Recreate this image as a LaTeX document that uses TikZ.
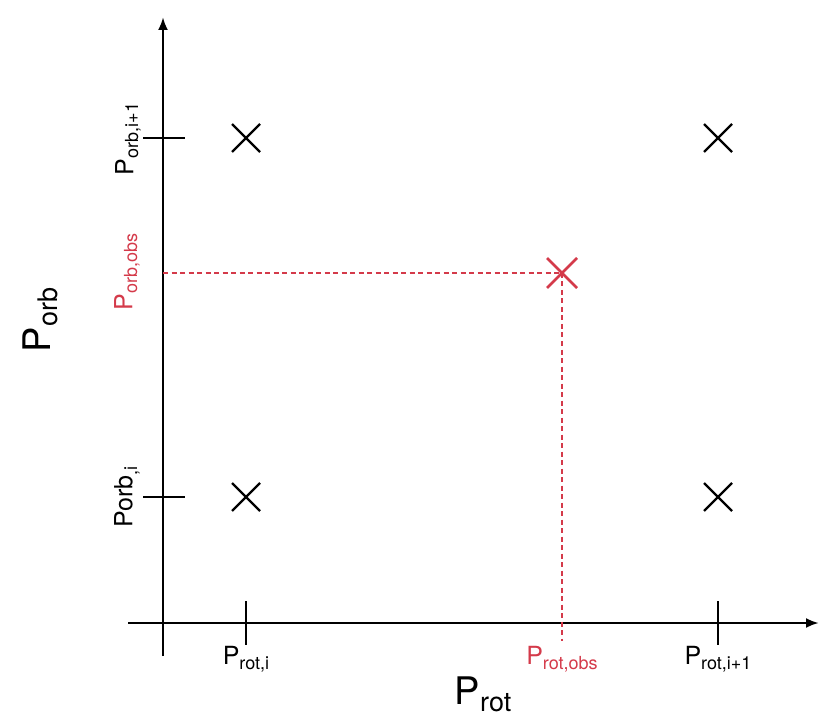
\documentclass[tikz,border=0pt]{standalone}
\usepackage{fontspec}
\setmainfont{TeX Gyre Heros}
\usetikzlibrary{arrows.meta}
\definecolor{obsred}{RGB}{212,58,74}
\newcommand{\tlab}[2]{{\fontsize{25}{28}\selectfont #1\raisebox{-0.35ex}{\fontsize{18}{20}\selectfont #2}}}
\newcommand{\blab}[2]{{\fontsize{38}{42}\selectfont #1\raisebox{-0.35ex}{\fontsize{27}{30}\selectfont #2}}}
\begin{document}
\begin{tikzpicture}[x=1pt,y=-1pt,
  axis/.style={line width=2.8pt,-{Latex[length=13pt,width=10pt]}},
  tickline/.style={line width=2.6pt},
  crossline/.style={line width=2.4pt},
  obsline/.style={obsred,line width=2.2pt,dash pattern=on 5pt off 3.5pt},
  lbl/.style={inner sep=0pt}]
\useasboundingbox (0,0) rectangle (830,727);
% axes
\coordinate (ys) at (163,656);
\coordinate (ye) at (163,17);
\coordinate (xs) at (128,623);
\coordinate (xe) at (819,623);
\draw[axis] (ys) -- (ye);
\draw[axis] (xs) -- (xe);
% ticks
\coordinate (ty1a) at (143,138); \coordinate (ty1b) at (185,138);
\coordinate (ty2a) at (143,497); \coordinate (ty2b) at (185,497);
\coordinate (tx1a) at (246,601); \coordinate (tx1b) at (246,645);
\coordinate (tx2a) at (718,601); \coordinate (tx2b) at (718,645);
\draw[tickline] (ty1a) -- (ty1b);
\draw[tickline] (ty2a) -- (ty2b);
\draw[tickline] (tx1a) -- (tx1b);
\draw[tickline] (tx2a) -- (tx2b);
% crosses
\foreach \n/\px/\py in {c1/246/138,c2/718/138,c3/246/497,c4/718/497}{
  \coordinate (\n) at (\px,\py);
  \draw[crossline] ([shift={(-14,-14)}]\n) -- ([shift={(14,14)}]\n);
  \draw[crossline] ([shift={(-14,14)}]\n) -- ([shift={(14,-14)}]\n);
}
% observed
\coordinate (obs) at (562,273);
\coordinate (obsy) at (163,273);
\coordinate (obsx) at (562,641);
\draw[obsline] (obsy) -- (obs);
\draw[obsline] (obs) -- (obsx);
\draw[obsred,line width=2.6pt] ([shift={(-15,-15)}]obs) -- ([shift={(15,15)}]obs);
\draw[obsred,line width=2.6pt] ([shift={(-15,15)}]obs) -- ([shift={(15,-15)}]obs);
% labels
\node[lbl,rotate=90] (lo1) at (128,139) {\tlab{P}{orb,i+1}};
\node[lbl,rotate=90,text=obsred] (loobs) at (127,272) {\tlab{P}{orb,obs}};
\node[lbl,rotate=90] (loi) at (127,497) {\tlab{Porb}{,i}};
\node[lbl,rotate=90] (lorb) at (40,320) {\blab{P}{orb}};
\node[lbl] (lr1) at (246,659) {\tlab{P}{rot,i}};
\node[lbl,text=obsred] (lrobs) at (562,659) {\tlab{P}{rot,obs}};
\node[lbl] (lr2) at (718,659) {\tlab{P}{rot,i+1}};
\node[lbl] (lrot) at (483,694) {\blab{P}{rot}};
\end{tikzpicture}
\end{document}
